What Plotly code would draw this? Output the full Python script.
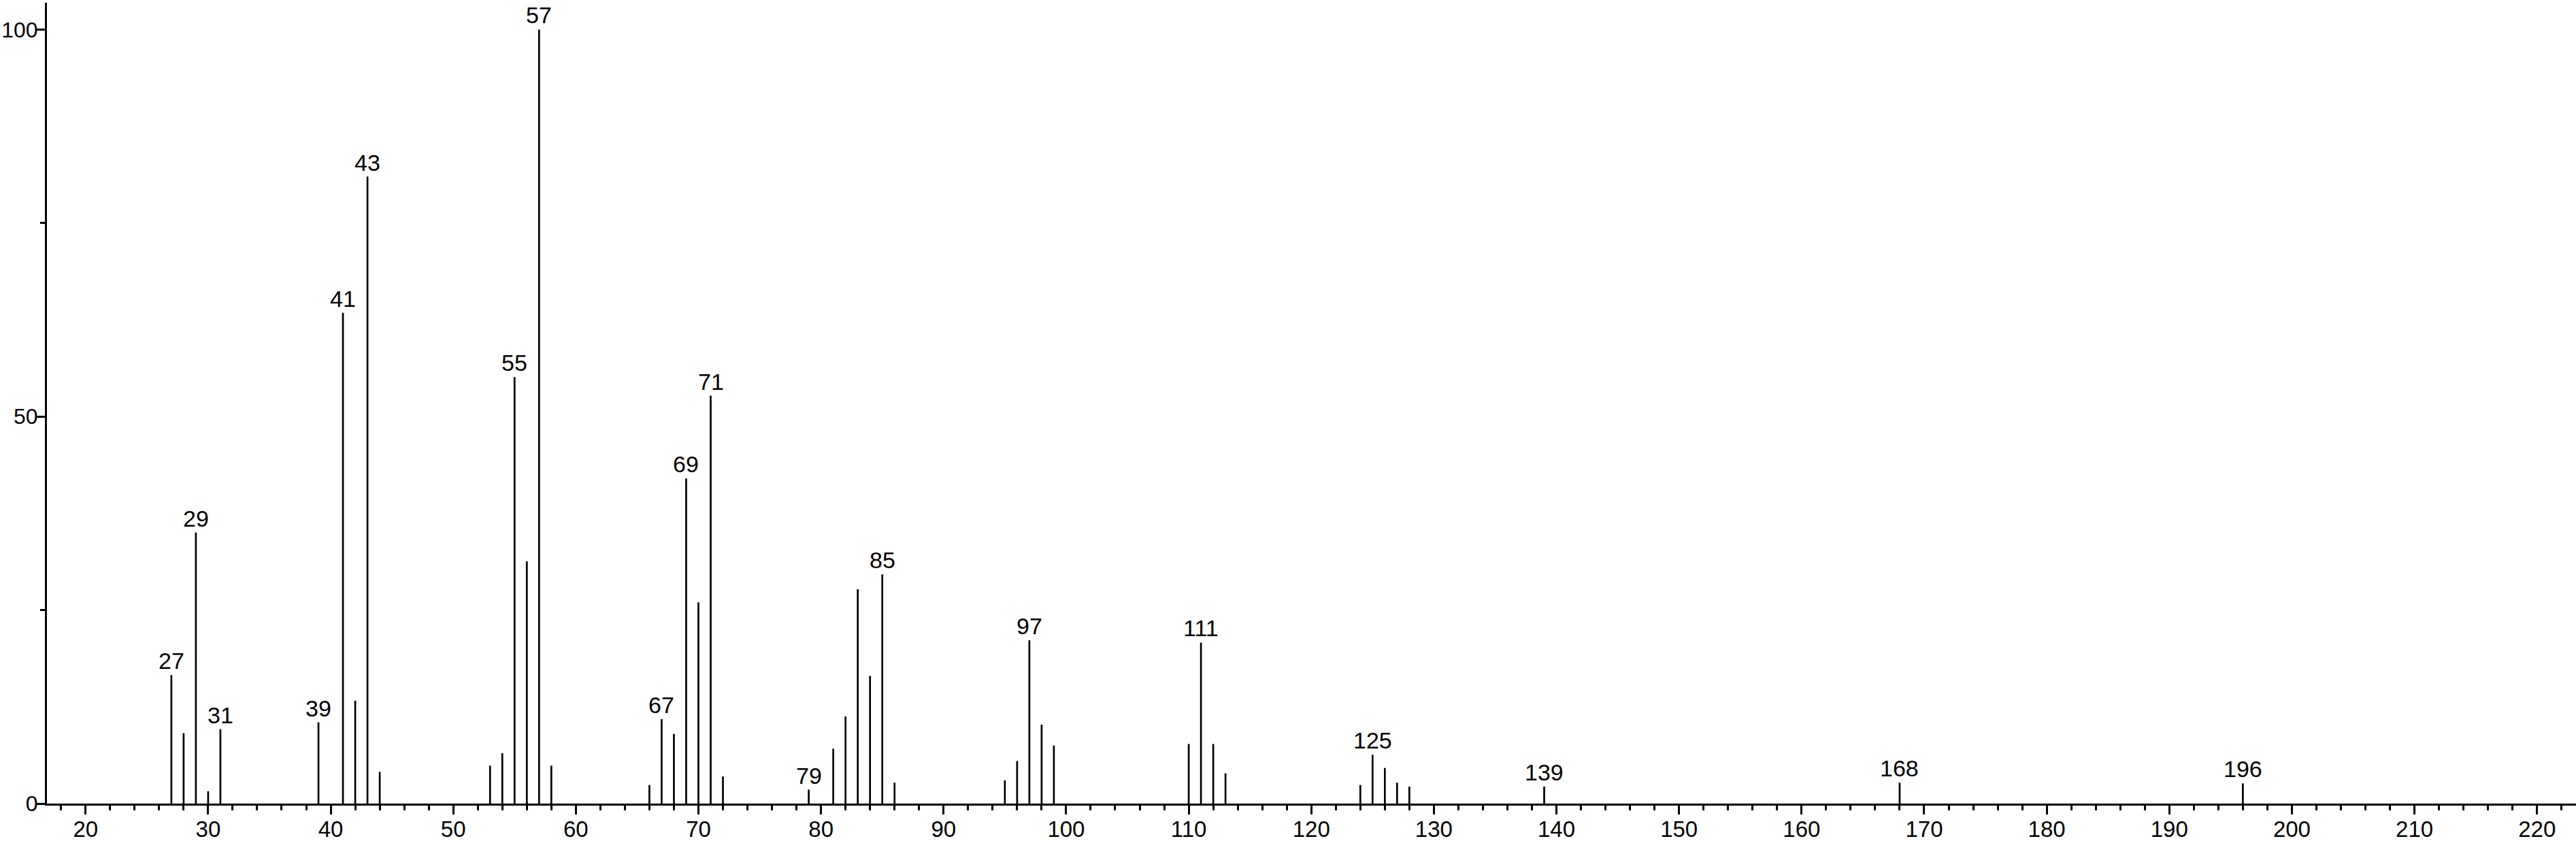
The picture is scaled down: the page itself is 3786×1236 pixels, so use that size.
import plotly.graph_objects as go

# m/z values and relative intensities
mz = [27, 28, 29, 30, 31, 39, 41, 42, 43, 44,
      53, 54, 55, 56, 57, 58, 66, 67, 68, 69, 70, 71, 72,
      79, 81, 82, 83, 84, 85, 86,
      95, 96, 97, 98, 99,
      110, 111, 112, 113,
      124, 125, 126, 127, 128,
      139, 168, 196]
intensity = [16.6, 9.1, 35.0, 1.6, 9.6, 10.5, 63.4, 13.3, 81.0, 4.1,
             4.9, 6.5, 55.1, 31.3, 100.0, 4.9, 2.4, 10.9, 9.0, 42.0, 26.0, 52.7, 3.5,
             1.8, 7.1, 11.25, 27.7, 16.5, 29.6, 2.7,
             3.0, 5.5, 21.1, 10.2, 7.5,
             7.7, 20.8, 7.7, 3.9,
             2.4, 6.3, 4.6, 2.7, 2.2,
             2.2, 2.7, 2.6]
labeled_mz = [27, 29, 31, 39, 41, 43, 55, 57, 67, 69, 71, 79, 85, 97, 111, 125, 139, 168, 196]

x_ticks = list(range(20, 230, 10))
y_ticks = [0, 50, 100]
y_minor = [25, 75]

FONT = "Liberation Sans, Arial, sans-serif"

xs, ys = [], []
for m, v in zip(mz, intensity):
    xs += [m, m, None]
    ys += [0, v, None]

fig = go.Figure()
fig.add_trace(go.Scatter(x=xs, y=ys, mode="lines",
                         line=dict(color="black", width=2.7),
                         hoverinfo="skip", showlegend=False))

lookup = dict(zip(mz, intensity))
for m in labeled_mz:
    fig.add_annotation(x=m, y=lookup[m], text=str(m), showarrow=False,
                       yanchor="bottom", xanchor="center", yshift=0,
                       font=dict(family=FONT, size=34, color="black"))

fig.update_layout(
    width=3786, height=1236,
    margin=dict(l=69, r=0, t=4, b=55, autoexpand=False),
    paper_bgcolor="white", plot_bgcolor="white",
    showlegend=False,
    font=dict(family=FONT, size=33, color="black"),
)
fig.update_xaxes(range=[16.85, 223.18], showgrid=False, zeroline=False, automargin=False,
                 showline=True, linecolor="black", linewidth=3,
                 tickmode="array", tickvals=x_ticks, ticktext=[str(t) for t in x_ticks],
                 ticks="outside", ticklen=13, tickwidth=3, tickcolor="black",
                 ticklabelstandoff=-7,
                 minor=dict(dtick=2, tick0=0, ticks="outside", ticklen=7,
                            tickwidth=3, tickcolor="black", showgrid=False),
                 tickfont=dict(family=FONT, size=33, color="black"))
fig.update_yaxes(range=[0, 103.47], showgrid=False, zeroline=False, automargin=False,
                 showline=True, linecolor="black", linewidth=3,
                 tickmode="array", tickvals=y_ticks, ticktext=[str(t) for t in y_ticks],
                 ticks="outside", ticklen=12, tickwidth=3, tickcolor="black",
                 ticklabelstandoff=-8,
                 minor=dict(tickvals=y_minor, ticks="outside", ticklen=7,
                            tickwidth=3, tickcolor="black", showgrid=False),
                 tickfont=dict(family=FONT, size=32, color="black"))

fig.write_html("out.html",
               config={"displayModeBar": False},
               post_script="document.body.style.margin='0';"
                           "document.body.style.overflow='hidden';")
